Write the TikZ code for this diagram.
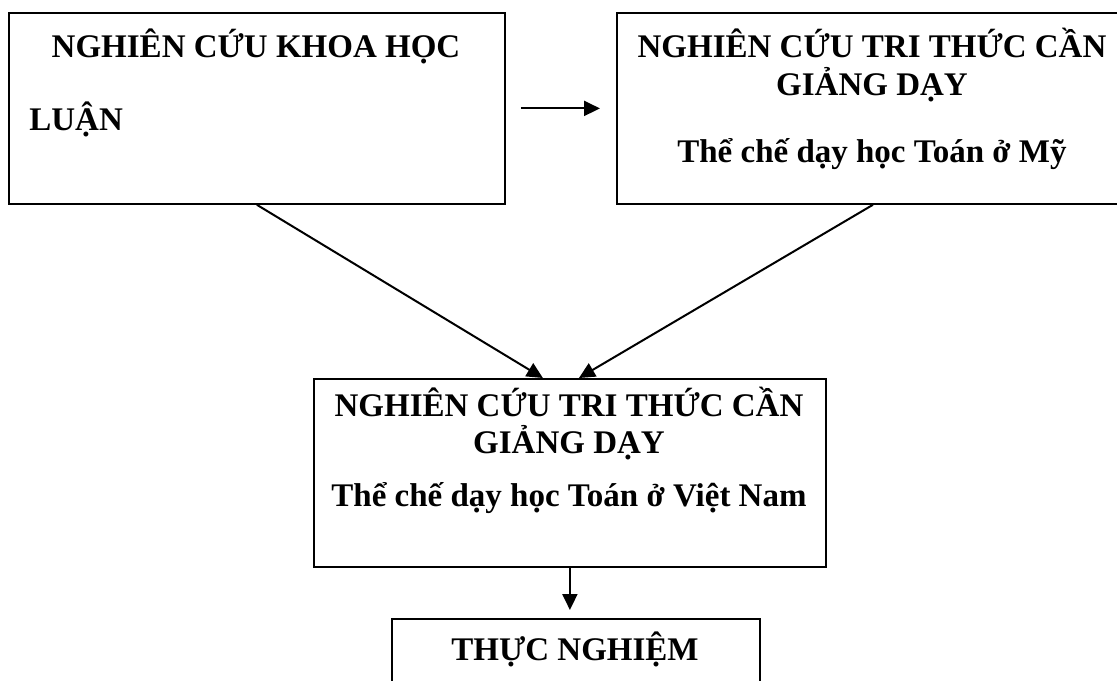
\documentclass[tikz,border=0pt]{standalone}
\usepackage{fontspec}
\setmainfont{Liberation Serif}
\usetikzlibrary{arrows.meta}

\begin{document}
\begin{tikzpicture}[x=0.5pt,y=-0.5pt,
  box/.style={draw,line width=0.9pt,inner sep=0pt,anchor=north west},
  txt/.style={font=\fontsize{16.5}{19}\bfseries\selectfont,inner sep=0pt,anchor=base},
  arr/.style={-{Triangle[length=8pt,width=7.5pt]},line width=1pt}]
\useasboundingbox (0,0) rectangle (1117,680);
% boxes
\node[box,minimum width=248pt,minimum height=95.5pt] (khoahoc) at (8,12) {};
\node[box,minimum width=256pt,minimum height=95.5pt] (my) at (616,12) {};
\node[box,minimum width=256pt,minimum height=94pt] (vn) at (313,378) {};
\node[box,minimum width=184pt,minimum height=45pt] (tn) at (391,618) {};
% texts
\node[txt] (khoahoc1) at (256,57) {NGHIÊN CỨU KHOA HỌC};
\node[txt,anchor=base west] (khoahoc2) at (29,130) {LUẬN};
\node[txt] (my1) at (872,57) {NGHIÊN CỨU TRI THỨC CẦN};
\node[txt] (my2) at (872,95) {GIẢNG DẠY};
\node[txt] (my3) at (872,162) {Thể chế dạy học Toán ở Mỹ};
\node[txt] (vn1) at (569,416) {NGHIÊN CỨU TRI THỨC CẦN};
\node[txt] (vn2) at (569,453) {GIẢNG DẠY};
\node[txt] (vn3) at (569,506) {Thể chế dạy học Toán ở Việt Nam};
\node[txt] (tn1) at (575,660) {THỰC NGHIỆM};
% arrows
\draw[arr,shorten <=7.5pt,shorten >=8pt] (khoahoc) -- (my);
\draw[arr] (khoahoc.south) -- ([xshift=-13.5pt]vn.north);
\draw[arr] (my.south) -- ([xshift=4.5pt]vn.north);
\draw[arr,shorten >=4pt] (vn.south) -- (vn.south |- tn.north);
\end{tikzpicture}
\end{document}
